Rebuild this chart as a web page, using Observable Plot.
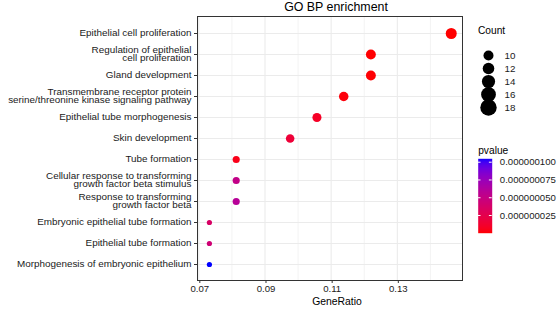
<!DOCTYPE html>
<html>
<head>
<meta charset="utf-8">
<script src="https://cdn.jsdelivr.net/npm/d3@7"></script>
<script src="https://cdn.jsdelivr.net/npm/@observablehq/plot@0.6"></script>
<style>
  html, body { margin: 0; padding: 0; background: #fff; }
  #chart { position: relative; width: 560px; height: 311px; overflow: hidden; font-family: "Liberation Sans", Arial, sans-serif; }
  #chart > div, #chart > svg { position: absolute; }
</style>
</head>
<body>
<div id="chart"></div>
<script>
// ---- data ----
const terms = [
  "Epithelial cell proliferation",
  "Regulation of epithelial\ncell proliferation",
  "Gland development",
  "Transmembrane receptor protein\nserine/threonine kinase signaling pathway",
  "Epithelial tube morphogenesis",
  "Skin development",
  "Tube formation",
  "Cellular response to transforming\ngrowth factor beta stimulus",
  "Response to transforming\ngrowth factor beta",
  "Embryonic epithelial tube formation",
  "Epithelial tube formation",
  "Morphogenesis of embryonic epithelium"
];
const geneRatio = [0.1463, 0.1220, 0.1220, 0.1138, 0.1057, 0.0976, 0.0813, 0.0813, 0.0813, 0.0732, 0.0732, 0.0732];
const counts    = [18, 15, 15, 14, 13, 12, 10, 10, 10, 9, 9, 9];
const pvalues   = [0.1e-9, 0.5e-9, 0.8e-9, 2e-9, 9e-9, 16e-9, 5e-9, 52e-9, 59e-9, 36e-9, 43e-9, 104.8e-9];

const xTicks = [0.07, 0.09, 0.11, 0.13];
const xMinorTicks = [0.08, 0.10, 0.12, 0.14];
const countLegendTicks = [10, 12, 14, 16, 18];
const pLegendTicks = [0.000000025, 0.000000050, 0.000000075, 0.000000100];
const titleText = "GO BP enrichment";
const xLabel = "GeneRatio";

// ---- build ----
const rows = terms.map((term, i) => ({term, ratio: geneRatio[i], count: counts[i], pvalue: pvalues[i]}));
const minCount = d3.min(counts), maxCount = d3.max(counts);
const pDomain = [d3.min(pvalues), d3.max(pvalues)];
const font = '"Liberation Sans", Arial, sans-serif';
const colorScale = {type: "linear", domain: pDomain, range: ["red", "blue"], interpolate: "lab"};

const main = Plot.plot({
  width: 560, height: 311,
  marginLeft: 197, marginRight: 98, marginTop: 16, marginBottom: 31,
  style: {fontFamily: font, background: "white", color: "#1a1a1a", overflow: "visible"},
  x: {domain: [0.0696, 0.1497]},
  y: {type: "point", domain: terms, padding: 0.6},
  r: {type: "sqrt", domain: [0, maxCount - minCount], range: [2.6, 5.5]},
  color: colorScale,
  marks: [
    Plot.gridX(xMinorTicks, {stroke: "#ebebeb", strokeOpacity: 1, strokeWidth: 0.6}),
    Plot.gridX(xTicks, {stroke: "#ebebeb", strokeOpacity: 1, strokeWidth: 1.1}),
    Plot.gridY({stroke: "#ebebeb", strokeOpacity: 1, strokeWidth: 1.1}),
    Plot.frame({stroke: "#333", strokeWidth: 1}),
    Plot.axisX(xTicks, {tickSize: 3, tickPadding: 1.5, tickFormat: d3.format(".2f"), fontSize: 9.6, dx: 1, label: null, stroke: "#333", fill: "#1a1a1a"}),
    Plot.axisY({tickSize: 3, tickPadding: 3, fontSize: 9.9, lineHeight: 0.86, label: null, stroke: "#333", fill: "#1a1a1a"}),
    Plot.dot(rows, {x: "ratio", y: "term", r: d => d.count - minCount, fill: "pvalue"}),
    Plot.text([titleText], {frameAnchor: "top", dy: -9, dx: 6, fontSize: 12.4, lineAnchor: "middle", fill: "#000"}),
    Plot.text([xLabel], {frameAnchor: "bottom", dy: 21.5, dx: 7, fontSize: 10.4, lineAnchor: "middle", fill: "#000"})
  ]
});

const sizeLegend = Plot.plot({
  width: 95, height: 115,
  marginLeft: 23, marginRight: 60, marginTop: 32, marginBottom: 16,
  style: {fontFamily: font, background: "transparent", overflow: "visible"},
  y: {type: "point", domain: countLegendTicks, axis: null},
  r: {type: "linear", domain: [10, 18], range: [5, 8.2]},
  marks: [
    Plot.dot(countLegendTicks, {y: d => d, r: d => d, fill: "black", frameAnchor: "left"}),
    Plot.text(countLegendTicks, {y: d => d, text: d => d, frameAnchor: "left", dx: 16, textAnchor: "start", fontSize: 9.8, fill: "#1a1a1a"}),
    Plot.text(["Count"], {frameAnchor: "top-left", dx: -10.5, dy: -17, textAnchor: "start", lineAnchor: "middle", fontSize: 10.2, fill: "#000"})
  ]
});

const colorLegend = Plot.plot({
  width: 95, height: 100,
  marginLeft: 12.7, marginRight: 68.3, marginTop: 18.3, marginBottom: 7.3,
  style: {fontFamily: font, background: "transparent", overflow: "visible"},
  x: {domain: [0, 1], axis: null},
  y: {domain: pDomain, axis: null},
  color: colorScale,
  marks: [
    Plot.raster({x1: 0, x2: 1, y1: pDomain[0], y2: pDomain[1], width: 1, height: 200, fill: (x, y) => y, imageRendering: "auto"}),
    Plot.ruleY(pLegendTicks, {y: d => d, x1: 0, x2: 0.2, stroke: "white", strokeWidth: 1}),
    Plot.ruleY(pLegendTicks, {y: d => d, x1: 0.8, x2: 1, stroke: "white", strokeWidth: 1}),
    Plot.text(pLegendTicks, {x: () => 1, y: d => d, dx: 7.6, text: d3.format(".9f"), textAnchor: "start", fontSize: 9.6, fill: "#1a1a1a"}),
    Plot.text(["pvalue"], {frameAnchor: "top-left", dy: -8.3, textAnchor: "start", lineAnchor: "middle", fontSize: 10.2, fill: "#000"})
  ]
});

const chart = document.getElementById("chart");
main.style.left = "0px"; main.style.top = "0px";
sizeLegend.style.left = "465px"; sizeLegend.style.top = "15px";
colorLegend.style.left = "465px"; colorLegend.style.top = "140px";
chart.appendChild(main);
chart.appendChild(sizeLegend);
chart.appendChild(colorLegend);
</script>
</body>
</html>
